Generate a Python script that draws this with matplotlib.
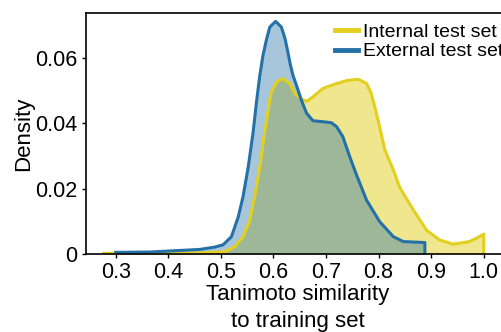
import numpy as np
import matplotlib
matplotlib.use("Agg")
import matplotlib.pyplot as plt

plt.rcParams['font.family'] = ['Liberation Sans', 'DejaVu Sans']

# density curves (similarity, density)
internal_x = [0.277, 0.365, 0.460, 0.507, 0.526, 0.542, 0.555, 0.564, 0.574, 0.583,
              0.593, 0.596, 0.606, 0.618, 0.631, 0.641, 0.653, 0.664, 0.675, 0.694,
              0.713, 0.739, 0.761, 0.777, 0.786, 0.796, 0.812, 0.828, 0.840, 0.866,
              0.891, 0.916, 0.942, 0.973, 0.986, 1.000, 1.000]
internal_y = [0.0002, 0.0002, 0.0003, 0.0007, 0.0022, 0.0053, 0.0104, 0.0175, 0.0267, 0.0370,
              0.0472, 0.0496, 0.0527, 0.0537, 0.0521, 0.0491, 0.0474, 0.0468, 0.0481, 0.0507,
              0.0518, 0.0531, 0.0535, 0.0522, 0.0491, 0.0430, 0.0318, 0.0257, 0.0204, 0.0135,
              0.0073, 0.0043, 0.0030, 0.0038, 0.0048, 0.0061, 0.0]

external_x = [0.300, 0.365, 0.460, 0.488, 0.504, 0.520, 0.533, 0.542, 0.552, 0.561,
              0.568, 0.574, 0.580, 0.587, 0.593, 0.604, 0.615, 0.622, 0.628, 0.632,
              0.637, 0.644, 0.653, 0.663, 0.675, 0.694, 0.710, 0.720, 0.732, 0.745,
              0.758, 0.777, 0.802, 0.828, 0.847, 0.888, 0.888]
external_y = [0.0005, 0.0006, 0.0014, 0.0021, 0.0028, 0.0053, 0.0114, 0.0175, 0.0267, 0.0370,
              0.0470, 0.0547, 0.0608, 0.0659, 0.0695, 0.0712, 0.0695, 0.0659, 0.0613, 0.0580,
              0.0547, 0.0515, 0.0471, 0.0431, 0.0408, 0.0405, 0.0402, 0.0390, 0.0359, 0.0298,
              0.0242, 0.0165, 0.0099, 0.0053, 0.0038, 0.0035, 0.0]

x_ticks = [0.3, 0.4, 0.5, 0.6, 0.7, 0.8, 0.9, 1.0]
y_ticks = [0, 0.02, 0.04, 0.06]
y_labels = ['0', '0.02', '0.04', '0.06']

yellow = '#e3cf1e'
blue = '#2471a8'

fig = plt.figure(figsize=(5.02, 3.32), dpi=100)
ax = fig.add_axes([0.171, 0.235, 0.845, 0.726])

ax.fill_between(internal_x, internal_y, color=yellow, alpha=0.5, lw=0)
ax.plot(internal_x, internal_y, color=yellow, lw=2.2, solid_joinstyle='round',
        label='Internal test set')
ax.fill_between(external_x, external_y, color=blue, alpha=0.4, lw=0)
ax.plot(external_x, external_y, color=blue, lw=2.2, solid_joinstyle='round',
        label='External test set')

ax.set_xlim(0.243, 1.05)
ax.set_ylim(0, 0.0738)
ax.set_xticks(x_ticks)
ax.set_yticks(y_ticks)
ax.set_yticklabels(y_labels)
ax.tick_params(labelsize=15.5, length=3, width=1, pad=3)
for s in ax.spines.values():
    s.set_linewidth(1.2)

ax.set_xlabel('Tanimoto similarity\nto training set', fontsize=16, linespacing=1.35,
              labelpad=0.5)
ax.set_ylabel('Density', fontsize=16, labelpad=0.5)

leg = fig.legend(loc='upper left', bbox_to_anchor=(0.667, 0.93), frameon=False,
                 fontsize=14, handlelength=1.2, handletextpad=0.25, labelspacing=0.1,
                 borderpad=0, borderaxespad=0)
for line in leg.get_lines():
    line.set_linewidth(3.5)

fig.savefig('out.png', dpi=100)
